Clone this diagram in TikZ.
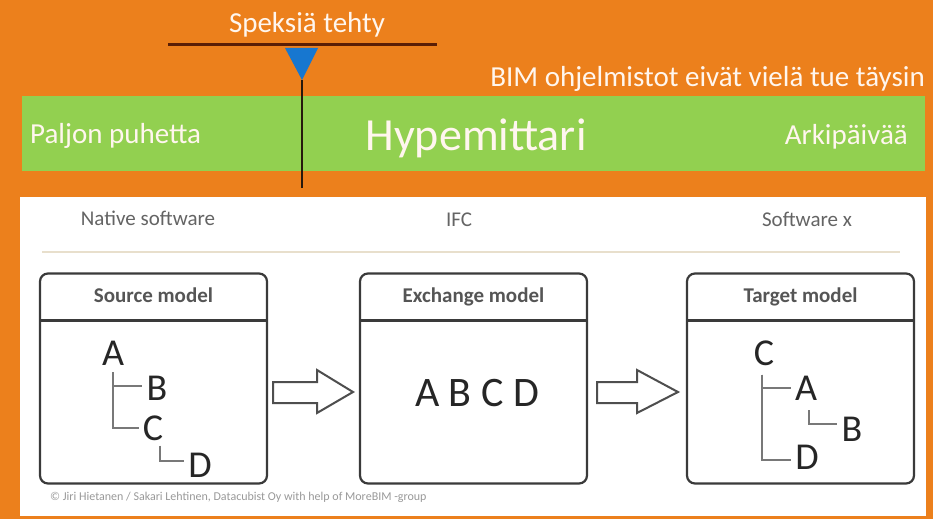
\documentclass[tikz,border=0pt]{standalone}
\usepackage{fontspec}
\setmainfont{Carlito}
\usetikzlibrary{calc}
\definecolor{bgorange}{RGB}{236,128,28}
\definecolor{bargreen}{RGB}{146,208,80}
\definecolor{markblue}{RGB}{23,119,208}
\definecolor{darkbrown}{RGB}{90,30,5}
\definecolor{titlewhite}{RGB}{255,246,238}
\definecolor{boxline}{RGB}{58,58,58}
\definecolor{headgray}{RGB}{85,85,85}
\definecolor{softgray}{RGB}{100,100,100}
\definecolor{treegray}{RGB}{120,120,120}
\definecolor{divider}{RGB}{232,223,204}
\tikzset{
  ttext/.style={inner sep=0pt, text=titlewhite, font=\fontsize{29}{32}\selectfont},
  swtext/.style={inner sep=0pt, text=softgray, font=\fontsize{21}{24}\selectfont},
  modelbox/.style={draw=boxline, line width=2.2pt, rounded corners=8pt, fill=white,
    minimum width=227pt, minimum height=210pt, outer sep=0pt, inner sep=0pt},
  headtext/.style={inner sep=0pt, text=headgray, font=\fontsize{21}{24}\selectfont\bfseries},
  letter/.style={inner xsep=4pt, inner ysep=2pt, text=black!85, font=\fontsize{38}{40}\selectfont},
  treeline/.style={draw=treegray, line width=1.3pt},
  blockarrow/.style={draw=boxline!90, line width=2pt, fill=white, line join=miter},
}
\begin{document}
\begin{tikzpicture}[x=1pt,y=-1pt]
\useasboundingbox (0,0) rectangle (933,519);
\fill[bgorange] (0,0) rectangle (933,519);

% top marker
\node[ttext, anchor=base] (spek) at (307,33) {Speksiä tehty};
\draw[darkbrown, line width=3pt] (168,45) -- (437,45);
\fill[markblue] (285,48) -- (318,48) -- (302,80) -- cycle;
\coordinate (tip) at (302,80);
\coordinate (markend) at (302,188);

\node[ttext, anchor=base east] (bim) at (925,86) {BIM ohjelmistot eivät vielä tue täysin};

% green bar
\fill[bargreen] (22,96) rectangle (925,171);
\node[ttext, anchor=base west] (paljon) at (30,143) {Paljon puhetta};
\node[ttext, anchor=base, font=\fontsize{46}{50}\selectfont] (hype) at (476,150) {Hypemittari};
\node[ttext, anchor=base east] (arki) at (908,144) {Arkipäivää};
\draw[black!80!brown, line width=2pt] (tip) -- (markend);

% white panel
\fill[white] (20,197) rectangle (926,516);
\node[swtext, anchor=base] (native) at (148,225) {Native software};
\node[swtext, anchor=base] (ifc) at (459,226) {IFC};
\node[swtext, anchor=base] (softx) at (807,226) {Software x};
\draw[divider, line width=2pt] (42,252) -- (900,252);

% model boxes
\node[modelbox] (src) at (153.5,378.5) {};
\node[modelbox] (exc) at (473.5,378.5) {};
\node[modelbox] (tgt) at (800.5,378.5) {};
\foreach \b in {src,exc,tgt}{
  \draw[boxline, line width=2.2pt] ([yshift=-47pt]\b.north west) -- ([yshift=-47pt]\b.north east);
}
\node[headtext, anchor=base] (srch) at (153.5,302) {Source model};
\node[headtext, anchor=base] (exch) at (473.5,302) {Exchange model};
\node[headtext, anchor=base] (tgth) at (800.5,302) {Target model};

% block arrows
\draw[blockarrow] (273,382) -- (317,382) -- (317,370) -- (353,392) -- (317,413) -- (317,403) -- (273,403) -- cycle;
\draw[blockarrow] (597,382) -- (637,382) -- (637,370) -- (678,392) -- (637,413) -- (637,403) -- (597,403) -- cycle;

% source tree
\node[letter] (sA) at (113,353) {A};
\node[letter] (sB) at (157,388) {B};
\node[letter] (sC) at (153,428) {C};
\node[letter] (sD) at (200,465) {D};
\draw[treeline] ([yshift=-5pt]sA.south) |- ([yshift=2pt]sB.west);
\draw[treeline] ([yshift=-5pt]sA.south) |- (sC.west);
\draw[treeline] ([xshift=7pt,yshift=-3pt]sC.south) |- ([yshift=4pt]sD.west);

% exchange model content
\node[letter, font=\fontsize{42}{44}\selectfont] (abcd) at (477,393) {A B C D};

% target tree
\node[letter] (tC) at (764,353) {C};
\node[letter] (tA) at (806,388) {A};
\node[letter] (tB) at (852,429) {B};
\node[letter] (tD) at (807,457) {D};
\draw[treeline] ([xshift=-2pt,yshift=-7pt]tC.south) |- (tA.west);
\draw[treeline] ([xshift=-2pt,yshift=-7pt]tC.south) |- ([yshift=-3pt]tD.west);
\draw[treeline] ([xshift=3pt,yshift=-8pt]tA.south) |- ([yshift=5pt]tB.west);

% credit
\node[inner sep=0pt, anchor=west, text=black!40, font=\fontsize{12}{14}\selectfont] (credit) at (50,497)
  {© Jiri Hietanen / Sakari Lehtinen, Datacubist Oy with help of MoreBIM -group};
\end{tikzpicture}
\end{document}
